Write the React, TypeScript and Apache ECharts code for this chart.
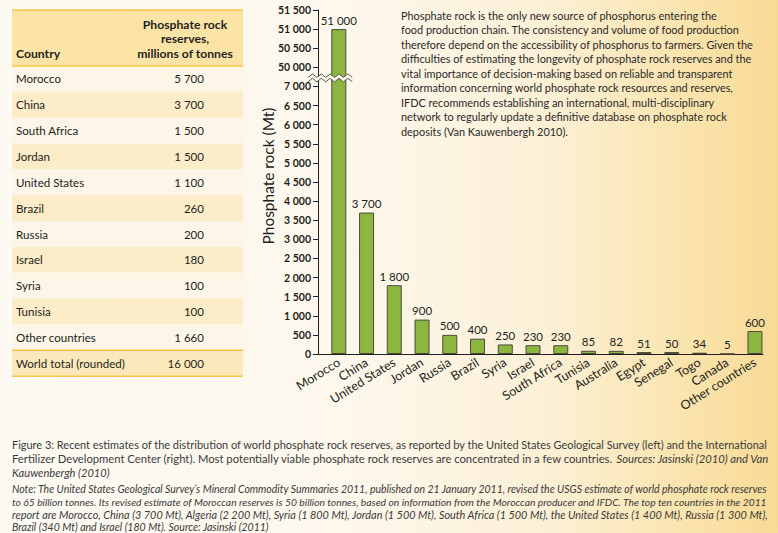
import React, { useEffect, useRef } from "react";
import * as echarts from "echarts";

// ---------- Table (USGS) ----------
const tableHeaderCountry = "Country";
const tableHeaderValue = ["Phosphate rock", "reserves,", "millions of tonnes"];
const tableCountries = ["Morocco", "China", "South Africa", "Jordan", "United States", "Brazil", "Russia", "Israel", "Syria", "Tunisia", "Other countries"];
const tableValues = [5700, 3700, 1500, 1500, 1100, 260, 200, 180, 100, 100, 1660];
const tableTotalLabel = "World total (rounded)";
const tableTotal = 16000;

// ---------- Bar chart (IFDC) ----------
const barCountries = ["Morocco", "China", "United States", "Jordan", "Russia", "Brazil", "Syria", "Israel", "South Africa", "Tunisia", "Australia", "Egypt", "Senegal", "Togo", "Canada", "Other countries"];
const barValues = [51000, 3700, 1800, 900, 500, 400, 250, 230, 230, 85, 82, 51, 50, 34, 5, 600];
const axisBreakLow = 7000;
const axisBreakHigh = 50000;
const axisTopValue = 51500;
const axisStep = 500;
const axisName = "Phosphate rock (Mt)";

// ---------- Texts ----------
const paragraphLines = [
  "Phosphate rock is the only new source of phosphorus entering the",
  "food production chain. The consistency and volume of food production",
  "therefore depend on the accessibility of phosphorus to farmers. Given the",
  "difficulties of estimating the longevity of phosphate rock reserves and the",
  "vital importance of decision-making based on reliable and transparent",
  "information concerning world phosphate rock resources and reserves,",
  "IFDC recommends establishing an international, multi-disciplinary",
  "network to regularly update a definitive database on phosphate rock",
  "deposits (Van Kauwenbergh 2010).",
];
const captionLine1 = "Figure 3: Recent estimates of the distribution of world phosphate rock reserves, as reported by the United States Geological Survey (left) and the International";
const captionLine2a = "Fertilizer Development Center (right). Most potentially viable phosphate rock reserves are concentrated in a few countries. ";
const captionLine2b = "Sources: Jasinski (2010) and Van";
const captionLine3 = "Kauwenbergh (2010)";
const noteLines = [
  "Note: The United States Geological Survey\u2019s Mineral Commodity Summaries 2011, published on 21 January 2011, revised the USGS estimate of world phosphate rock reserves",
  "to 65 billion tonnes. Its revised estimate of Moroccan reserves is 50 billion tonnes, based on information from the Moroccan producer and IFDC. The top ten countries in the 2011",
  "report are Morocco, China (3 700 Mt), Algeria (2 200 Mt), Syria (1 800 Mt), Jordan (1 500 Mt), South Africa (1 500 Mt), the United States (1 400 Mt), Russia (1 300 Mt),",
  "Brazil (340 Mt) and Israel (180 Mt). Source: Jasinski (2011)",
];

const fmt = (n: number) => String(n).replace(/\B(?=(\d{3})+(?!\d))/g, " ");
const toAxis = (v: number) => (v <= axisBreakLow ? v : v - axisBreakHigh + axisBreakLow + axisStep);
const fromAxis = (d: number) => (d <= axisBreakLow ? d : d - axisBreakLow - axisStep + axisBreakHigh);

export default function App() {
  const ref = useRef<HTMLDivElement>(null);
  useEffect(() => {
    const el = ref.current!;
    const chart = echarts.init(el, null, { renderer: "svg", width: 778, height: 533 });
    const cv = document.createElement("canvas").getContext("2d")!;
    const measure = (s: string, size: number, fam: string, weight = "normal", style = "normal") => {
      cv.font = `${style} ${weight} ${size}px ${fam}`;
      return cv.measureText(s).width;
    };
    const fit = (s: string, fam: string, target: number, weight = "normal", style = "normal") =>
      (100 * target) / measure(s, 100, fam, weight, style);
    const SANS = '"Lato"';
    const CAP = '"Lato"';
    const INK = "#231f20";
    const CAPINK = "#3a3a3a";

    const tableSize = fit(tableTotalLabel, SANS, 109);
    const headerSize = fit(tableHeaderValue[2], SANS, 96, "bold");
    const paraSize = fit(paragraphLines[2], SANS, 353);
    const yNameSize = fit(axisName, SANS, 137);
    const xLabelSize = fit("Other countries", SANS, 87);
    const tickSize = 10.5;
    const valSize = 11.5;

    const capLeft = 12;
    const capWidth = 757;

    const base: any[] = [];
    // ---- table ----
    const tL = 12, tW = 231, hTop = 10, hBot = 66, rowH = 25.85;
    base.push({ type: "rect", shape: { x: tL, y: hTop, width: tW, height: hBot - hTop }, style: { fill: "#fde4a6" } });
    tableCountries.forEach((c, i) => {
      const top = hBot + i * rowH;
      base.push({ type: "rect", shape: { x: tL, y: top, width: tW, height: rowH }, style: { fill: i % 2 === 0 ? "#fdf6e8" : "#fcecc8" } });
      base.push({ type: "text", x: 16, y: top + rowH / 2, style: { text: c, fill: INK, fontSize: tableSize, fontFamily: SANS, textAlign: "left", textVerticalAlign: "middle" } });
      base.push({ type: "text", x: 204, y: top + rowH / 2, style: { text: fmt(tableValues[i]), fill: INK, fontSize: tableSize, fontFamily: SANS, textAlign: "right", textVerticalAlign: "middle" } });
    });
    const totTop = hBot + tableCountries.length * rowH;
    base.push({ type: "rect", shape: { x: tL, y: totTop, width: tW, height: rowH }, style: { fill: "#fce9bb" } });
    base.push({ type: "text", x: 16, y: totTop + rowH / 2, style: { text: tableTotalLabel, fill: INK, fontSize: tableSize, fontFamily: SANS, textAlign: "left", textVerticalAlign: "middle" } });
    base.push({ type: "text", x: 204, y: totTop + rowH / 2, style: { text: fmt(tableTotal), fill: INK, fontSize: tableSize, fontFamily: SANS, textAlign: "right", textVerticalAlign: "middle" } });
    [hTop, hBot, totTop, totTop + rowH].forEach((y) => {
      base.push({ type: "line", shape: { x1: tL, y1: y, x2: tL + tW, y2: y }, style: { stroke: "#f5c646", lineWidth: 1.5 } });
    });
    base.push({ type: "text", x: 16, y: 53, style: { text: tableHeaderCountry, fill: INK, fontSize: headerSize, fontWeight: "bold", fontFamily: SANS, textAlign: "left", textVerticalAlign: "middle" } });
    tableHeaderValue.forEach((t, i) => {
      base.push({ type: "text", x: 185, y: 24 + i * 14.5, style: { text: t, fill: INK, fontSize: headerSize, fontWeight: "bold", fontFamily: SANS, textAlign: "center", textVerticalAlign: "middle" } });
    });

    // ---- paragraph ----
    paragraphLines.forEach((t, i) => {
      base.push({ type: "text", x: 401, y: 15 + i * 14.5, style: { text: t, fill: "#2a2a2a", fontSize: paraSize, fontFamily: SANS, textAlign: "left", textVerticalAlign: "middle" } });
    });

    // ---- y axis name ----
    base.push({ type: "text", x: 268, y: 176, rotation: Math.PI / 2, style: { text: axisName, fill: INK, fontSize: yNameSize, fontFamily: SANS, textAlign: "center", textVerticalAlign: "middle" } });

    // ---- caption ----
    const c1 = fit(captionLine1, CAP, capWidth);
    base.push({ type: "text", x: capLeft, y: 444, style: { text: captionLine1, fill: CAPINK, fontSize: c1, fontFamily: CAP, textAlign: "left", textVerticalAlign: "middle" } });
    const wA = measure(captionLine2a, 100, CAP);
    const wB = measure(captionLine2b, 100, CAP, "normal", "italic");
    const c2 = (100 * capWidth) / (wA + wB);
    base.push({ type: "text", x: capLeft, y: 458.5, style: { text: captionLine2a, fill: CAPINK, fontSize: c2, fontFamily: CAP, textAlign: "left", textVerticalAlign: "middle" } });
    base.push({ type: "text", x: capLeft + (wA * c2) / 100, y: 458.5, style: { text: captionLine2b, fill: CAPINK, fontSize: c2, fontStyle: "italic", fontFamily: CAP, textAlign: "left", textVerticalAlign: "middle" } });
    base.push({ type: "text", x: capLeft, y: 472.5, style: { text: captionLine3, fill: CAPINK, fontSize: (c1 + c2) / 2, fontStyle: "italic", fontFamily: CAP, textAlign: "left", textVerticalAlign: "middle" } });

    // ---- note ----
    const noteSizes = noteLines.slice(0, 3).map((t) => fit(t, CAP, capWidth, "normal", "italic"));
    const noteAvg = noteSizes.reduce((a, b) => a + b, 0) / noteSizes.length;
    noteLines.forEach((t, i) => {
      base.push({ type: "text", x: capLeft, y: 489 + i * 12.6, style: { text: t, fill: CAPINK, fontSize: i < 3 ? noteSizes[i] : noteAvg, fontStyle: "italic", fontFamily: CAP, textAlign: "left", textVerticalAlign: "middle" } });
    });

    const option: any = {
      animation: false,
      grid: { left: 318, top: 10, right: 15, bottom: 179, containLabel: false, outerBoundsMode: "none" },
      xAxis: {
        type: "value",
        min: -0.75,
        max: 15.29,
        axisLine: { show: true, onZero: false, lineStyle: { color: INK, width: 1 } },
        axisTick: { show: false },
        splitLine: { show: false },
        axisLabel: {
          customValues: barCountries.map((_, i) => i),
          formatter: (v: number) => barCountries[Math.round(v)] || "",
          rotate: 32,
          margin: 7,
          fontSize: xLabelSize,
          fontFamily: SANS,
          color: INK,
        },
      },
      yAxis: {
        type: "value",
        min: 0,
        max: toAxis(axisTopValue),
        interval: axisStep,
        axisLine: { show: true, onZero: false, lineStyle: { color: INK, width: 1 } },
        axisTick: { show: true, length: 5, lineStyle: { color: INK } },
        splitLine: { show: false },
        axisLabel: {
          formatter: (v: number) => fmt(fromAxis(v)),
          margin: 7,
          fontSize: tickSize,
          fontWeight: "bold",
          fontFamily: SANS,
          color: INK,
        },
      },
      series: [
        {
          type: "bar",
          barWidth: 15,
          data: barValues.map((v, i) => [i, toAxis(v)]),
          itemStyle: { color: "#8cb63f", borderColor: "#4a4a3a", borderWidth: 1 },
          label: {
            show: true,
            position: "top",
            distance: 3,
            formatter: (p: any) => fmt(barValues[p.dataIndex]),
            fontSize: valSize,
            fontFamily: SANS,
            color: INK,
          },
        },
      ],
      graphic: base,
    };
    chart.setOption(option);

    // ---- axis break marker (positioned through the axes) ----
    const pLow = chart.convertToPixel({ gridIndex: 0 } as any, [-0.75, axisBreakLow]) as number[];
    const pHigh = chart.convertToPixel({ gridIndex: 0 } as any, [0, toAxis(axisBreakHigh)]) as number[];
    const yMid = (pLow[1] + pHigh[1]) / 2 + 1;
    const x0 = pLow[0] - 10;
    const x1 = pHigh[0] + 13.5;
    const n = 10;
    const step = (x1 - x0) / n;
    const up: number[][] = [], lo: number[][] = [];
    for (let k = 0; k <= n; k++) {
      const dy = k % 2 === 0 ? 1.8 : -1.8;
      up.push([x0 + k * step, yMid - 2.2 + dy]);
      lo.push([x0 + k * step, yMid + 2.2 + dy]);
    }
    const brk = [
      { type: "polygon", z: 100, shape: { points: up.concat(lo.slice().reverse()) }, style: { fill: "#fdf6ea" } },
      { type: "polyline", z: 101, shape: { points: up }, style: { stroke: "#444", lineWidth: 0.9, fill: null } },
      { type: "polyline", z: 101, shape: { points: lo }, style: { stroke: "#444", lineWidth: 0.9, fill: null } },
    ];
    chart.setOption({ graphic: base.concat(brk) });

    return () => chart.dispose();
  }, []);
  return (
    <div
      ref={ref}
      style={{
        position: "absolute",
        left: 0,
        top: 0,
        width: 778,
        height: 533,
        background: "linear-gradient(90deg, #fdfaf3 0%, #fdf7ec 45%, #fcf0d6 70%, #fae4ae 88%, #f8da96 100%)",
      }}
    />
  );
}
